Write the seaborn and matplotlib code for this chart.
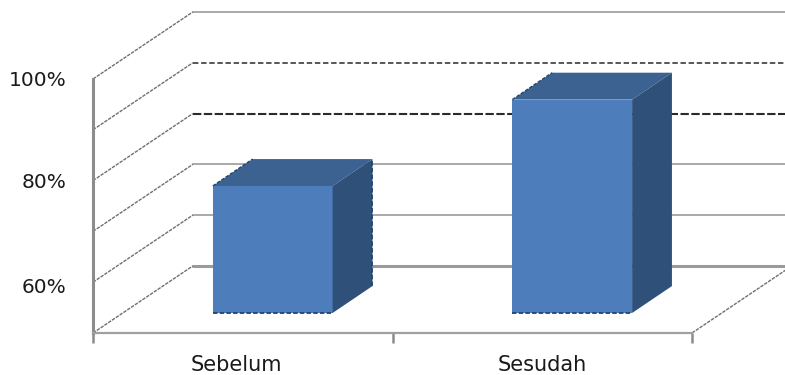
import matplotlib
matplotlib.use("Agg")
import matplotlib.pyplot as plt
import numpy as np
import pandas as pd
import seaborn as sns
from matplotlib.patches import Polygon
from matplotlib.transforms import ScaledTranslation

categories = ["Sebelum", "Sesudah"]
values = [75, 92]
grid_levels = [50, 60, 70, 80, 90, 100]
tick_levels = [60, 80, 100]
tick_labels = ["60%", "80%", "100%"]

# Depth of the pseudo-3D box, in data units (categories, percent)
WALL_DX, WALL_DY = 1 / 3, 13.2
BAR_DX, BAR_DY = 0.10, 3.94
SIDE_DX, SIDE_DY = 0.133, 5.3
FLOOR = 50

FRONT = "#4D7EBB"
TOP = "#3C6291"
SIDE = "#2F5078"
GREY = "#A3A3A3"
AXIS = "#8C8C8C"
FONT = "DejaVu Sans"

sns.set_theme(style="white")
plt.rcParams["font.family"] = [FONT]

fig = plt.figure(figsize=(7.85, 3.75), dpi=100)
ax = fig.add_axes([93 / 785, 42 / 375, 599 / 785, 254 / 375])

frame = pd.DataFrame({"phase": categories, "score": values})
sns.barplot(data=frame, x="phase", y="score", color=FRONT, saturation=1,
            width=0.4, ax=ax, zorder=5)

ax.set_xlim(-0.5, 1.5)
ax.set_ylim(FLOOR, 100)

# Back wall gridlines with their diagonals across the side wall
wall_styles = {
    50: dict(color="#9A9A9A", lw=2.2, ls="-"),
    60: dict(color=GREY, lw=1.3, ls="-"),
    70: dict(color=GREY, lw=1.3, ls="-"),
    80: dict(color="#2B2B2B", lw=1.5, ls=(0, (4, 1.2))),
    90: dict(color="#4A4A4A", lw=1.3, ls=(0, (3, 1.5))),
    100: dict(color=GREY, lw=1.3, ls="-"),
}
for level in grid_levels:
    ax.plot([-0.5 + WALL_DX, 1.5 + WALL_DX], [level + WALL_DY] * 2,
            clip_on=False, zorder=1, **wall_styles[level])
    ax.plot([-0.5, -0.5 + WALL_DX], [level, level + WALL_DY], clip_on=False,
            color="#707070", lw=1.0, ls=(0, (2.5, 0.8)), zorder=1)
ax.plot([1.5, 1.5 + WALL_DX], [FLOOR, FLOOR + WALL_DY], clip_on=False,
        color="#707070", lw=1.0, ls=(0, (2.5, 0.8)), zorder=1)

# Move each bar onto its depth plane and give it a top and side face
for patch, value in zip(ax.patches, values):
    left = patch.get_x() + BAR_DX
    width = patch.get_width()
    right = left + width
    base = FLOOR + BAR_DY
    top = value + BAR_DY
    patch.set_x(left)
    patch.set_y(base)
    patch.set_height(value - FLOOR)
    patch.set_linewidth(0)
    patch.set_clip_on(False)
    ax.add_patch(Polygon(
        [(left, top), (right, top), (right + SIDE_DX, top + SIDE_DY),
         (left + SIDE_DX, top + SIDE_DY)],
        closed=True, fc=TOP, ec="none", clip_on=False, zorder=5))
    ax.add_patch(Polygon(
        [(right, base), (right + SIDE_DX, base + SIDE_DY),
         (right + SIDE_DX, top + SIDE_DY), (right, top)],
        closed=True, fc=SIDE, ec="none", clip_on=False, zorder=5))
    ax.plot([left, right], [base, base], color="#22456F", lw=1.3,
            ls=(0, (2.5, 1.2)), clip_on=False, zorder=6)
    ax.plot([left, left + SIDE_DX], [top, top + SIDE_DY], color="#22456F",
            lw=1.0, ls=(0, (2.5, 1.2)), clip_on=False, zorder=6)

# Dashed outer edge on the shorter bar's side face
short = int(np.argmin(values))
short_patch = ax.patches[short]
edge_x = short_patch.get_x() + short_patch.get_width() + SIDE_DX
ax.plot([edge_x, edge_x],
        [FLOOR + BAR_DY + SIDE_DY, values[short] + BAR_DY + SIDE_DY],
        color="#22456F", lw=1.3, ls=(0, (2.5, 1.2)), clip_on=False, zorder=6)

for name in ("top", "right"):
    ax.spines[name].set_visible(False)
ax.spines["left"].set_color(AXIS)
ax.spines["left"].set_linewidth(2.2)
ax.spines["bottom"].set_color("#A0A0A0")
ax.spines["bottom"].set_linewidth(1.6)
for spine in ax.spines.values():
    spine.set_zorder(3)

ax.set_xlabel("")
ax.set_ylabel("")
ax.set_yticks(tick_levels)
ax.set_yticklabels(tick_labels)
ax.set_xticks(range(len(categories)))
ax.set_xticklabels(categories)
ax.set_xticks([-0.5, 0.5, 1.5], minor=True)
ax.tick_params(axis="y", length=0, pad=19, labelsize=14.5, labelcolor="#1A1A1A")
ax.tick_params(axis="x", which="major", length=0, pad=15.5, labelsize=15,
               labelcolor="#1A1A1A")
ax.tick_params(axis="x", which="minor", length=7, width=1.8, color=AXIS,
               bottom=True)

# Small optical nudges for individual tick labels
def nudge(label, dx_px, dy_px):
    label.set_transform(label.get_transform()
                        + ScaledTranslation(dx_px / 100, dy_px / 100,
                                            fig.dpi_scale_trans))

nudge(ax.get_yticklabels()[0], 0, -3.5)
nudge(ax.get_xticklabels()[0], -6, 0)

fig.savefig("out.png", dpi=100)
